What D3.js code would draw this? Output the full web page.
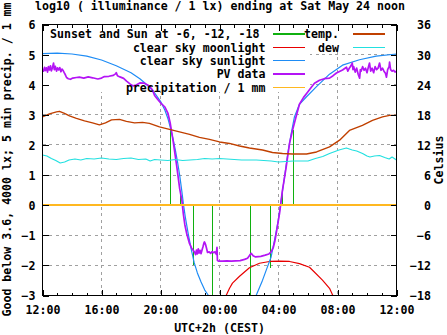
<!DOCTYPE html>
<html><head><meta charset="utf-8">
<script src="https://cdn.jsdelivr.net/npm/d3@7"></script>
<style>
html,body{margin:0;padding:0;background:#fff;}
svg{display:block;}
text{font-family:"DejaVu Sans Mono","Liberation Mono",monospace;font-weight:bold;font-size:11.6px;fill:#000;}
</style></head><body>
<svg id="c" width="447" height="335"></svg>
<script>
// ---------- texts ----------
const titleText = "log10 ( illuminance / 1 lx) ending at Sat May 24 noon";
const yLabelText = "Good below 3.6, 4000 lx; 5 min precip. / 1 mm";
const y2LabelText = "Celsius";
const xLabelText = "UTC+2h (CEST)";
// ---------- ticks ----------
const xTickHours = [0, 4, 8, 12, 16, 20, 24];      // hours after Fri 12:00
const yTicks = [-3, -2, -1, 0, 1, 2, 3, 4, 5, 6];
const y2Ticks = [-18, -12, -6, 0, 6, 12, 18, 24, 30, 36];
// ---------- series: [hours after 12:00, value] ----------
// sunset / sun at -6, -12, -18 (impulses, log10 lx)
const sunHours  = [8.68, 9.36, 10.24, 11.53, 14.10, 15.46, 16.27, 17.02];
const sunValues = [2.5, 0.42, -2.0, -3.5, -3.5, -2.1, 0.42, 2.5];
// clear sky moonlight
const moonData = [[12.3,-3.3],[12.45,-3.0],[12.68,-2.76],[12.88,-2.59],[13.36,-2.36],[14.03,-2.08],[14.71,-1.93],[15.39,-1.87],[16.07,-1.86],[16.75,-1.87],[17.42,-1.94],[18.1,-2.06],[18.31,-2.16],[18.98,-2.49],[19.46,-2.76],[19.73,-3.05],[19.85,-3.3]];
// clear sky sunlight
const sunlightData = [[0,5.03],[1,5.05],[2,5.02],[3,4.95],[4,4.82],[5,4.63],[6,4.4],[6.6,4.2],[7,4.03],[7.5,3.8],[8,3.45],[8.3,3.15],[8.5,2.88],[8.68,2.55],[8.85,2.2],[9.0,1.85],[9.15,1.45],[9.3,1.0],[9.45,0.45],[9.55,0.05],[9.7,-0.45],[9.9,-1.0],[10.1,-1.5],[10.28,-1.9],[10.5,-2.25],[10.75,-2.55],[11.0,-2.82],[11.25,-3.0],[11.5,-3.2],
  [14.2,-3.25],[14.49,-2.99],[14.92,-2.49],[15.25,-2.05],[15.5,-1.72],[15.73,-1.16],[15.95,-0.6],[16.18,0.17],[16.41,0.94],[16.63,1.72],[16.86,2.38],[17.08,2.93],[17.42,3.35],[17.9,3.6],[18.56,3.93],[19.46,4.35],[20.34,4.65],[21.49,4.83],[22.62,4.95],[24,5.02]];
// PV data
const pvData = [[0,4.52],[0.07,4.45],[0.14,4.58],[0.2,4.47],[0.27,4.56],[0.34,4.42],[0.4,4.6],[0.47,4.49],[0.54,4.63],[0.6,4.46],[0.68,4.57],[0.75,4.72],[0.8,4.5],[0.87,4.61],[0.95,4.45],[1.02,4.56],[1.1,4.49],[1.17,4.57],[1.25,4.43],[1.32,4.52],[1.4,4.47],[1.47,4.4],[1.55,4.33],[1.63,4.24],[1.75,4.2],[1.9,4.18],[2.05,4.22],[2.3,4.24],[2.5,4.25],[2.8,4.22],[3.1,4.26],[3.4,4.23],[3.75,4.19],[4.0,4.22],[4.2,4.27],[4.5,4.28],[4.8,4.31],[4.95,4.36],[5.0,4.4],[5.08,4.3],[5.25,4.26],[5.5,4.21],[5.7,4.12],[5.95,4.02],[6.15,3.96],[6.35,3.99],[6.6,4.06],[6.9,4.05],[7.1,4.0],[7.25,3.95],[7.45,3.83],[7.6,3.64],[7.8,3.52],[8.0,3.4],[8.3,3.26],[8.5,3.06],[8.65,2.75],[8.85,2.15],[9.1,1.3],[9.3,0.55],[9.45,0.15],[9.55,-0.3],[9.65,-0.65],[9.78,-0.95],[9.95,-1.25],[10.1,-1.42],[10.25,-1.52],[10.31,-1.56],[10.38,-1.64],[10.44,-1.49],[10.5,-1.62],[10.56,-1.45],[10.62,-1.59],[10.68,-1.5],[10.75,-1.61],[10.82,-1.48],[10.88,-1.38],[10.95,-1.25],[10.98,-1.22],[11.05,-1.3],[11.12,-1.43],[11.19,-1.57],[11.3,-1.55],[11.4,-1.6],[11.5,-1.54],[11.6,-1.58],[11.7,-1.55],[11.78,-1.63],[11.83,-1.4],[11.86,-1.84],[11.95,-1.86],[12.2,-1.86],[12.5,-1.85],[12.8,-1.86],[13.1,-1.85],[13.4,-1.84],[13.7,-1.8],[13.9,-1.76],[14.05,-1.66],[14.15,-1.6],[14.28,-1.68],[14.45,-1.72],[14.8,-1.7],[15.1,-1.66],[15.35,-1.62],[15.5,-1.55],[15.65,-1.4],[15.75,-1.2],[15.85,-0.93],[16.07,-0.27],[16.27,0.5],[16.52,1.26],[16.75,2.06],[16.95,2.49],[17.2,2.95],[17.42,3.35],[17.7,3.58],[17.97,3.75],[18.2,3.9],[18.44,4.05],[18.78,4.15],[19.1,4.2],[19.46,4.22],[19.7,4.3],[19.93,4.39],[20.34,4.49],[20.61,4.58],
  [20.7,4.45],[20.8,4.55],[20.9,4.62],[21.0,4.72],[21.05,4.5],[21.1,4.6],[21.2,4.42],[21.3,4.55],[21.4,4.35],[21.5,4.22],[21.55,4.5],[21.6,4.45],[21.7,4.6],[21.8,4.48],[21.9,4.55],[22.0,4.4],[22.1,4.6],[22.17,4.72],[22.25,4.45],[22.35,4.55],[22.45,4.4],[22.55,4.6],[22.65,4.5],[22.75,4.55],[22.85,4.72],[22.95,4.48],[23.05,4.55],[23.15,4.45],[23.25,4.38],[23.32,4.25],[23.4,4.5],[23.5,4.6],[23.53,4.75],[23.6,4.5],[23.7,4.45],[23.8,4.48],[23.9,4.42],[24.0,4.45]];
// precipitation / 1 mm
const precipData = [[0,0],[24,0]];
// temperature (Celsius)
const tempData = [[0,17.6],[0.47,18.2],[0.95,18.6],[1.15,18.7],[1.49,18.3],[1.83,17.8],[2.3,17.3],[2.85,16.8],[3.39,16.4],[3.86,16.0],[4.27,16.4],[4.68,17.0],[5.22,17.1],[5.69,16.7],[6.24,16.4],[6.78,16.5],[7.25,16.3],[7.93,15.6],[8.61,15.1],[9.29,14.6],[9.97,14.1],[10.64,13.5],[11.32,13.1],[12.0,12.6],[12.68,12.3],[13.36,11.8],[14.03,11.4],[14.92,11.0],[15.59,10.5],[16.27,10.3],[16.95,10.2],[17.9,10.2],[18.58,10.6],[19.46,11.6],[20.14,12.95],[20.81,14.9],[21.69,15.9],[22.37,16.9],[23.05,17.6],[23.53,17.9],[24,17.9]];
// dew point (Celsius)
const dewData = [[0,10.0],[0.3,9.8],[0.6,9.3],[0.9,8.9],[1.2,8.4],[1.5,8.6],[1.8,9.0],[2.2,9.2],[2.6,9.0],[3.0,9.3],[3.5,9.2],[4.0,9.4],[4.5,9.2],[5.0,9.1],[5.5,9.3],[6.0,9.4],[6.5,9.1],[7.0,9.2],[7.3,8.8],[7.6,9.1],[8.0,9.0],[8.5,8.9],[9.0,9.1],[9.5,8.9],[10.0,9.0],[10.5,9.1],[11.0,9.3],[11.5,9.2],[12.0,9.3],[12.5,9.2],[13.0,9.1],[13.5,9.0],[14.0,9.0],[14.5,9.0],[15.0,8.9],[15.5,8.8],[16.0,8.6],[16.5,8.7],[17.0,8.8],[17.5,8.8],[18.0,8.8],[18.5,9.3],[19.0,9.7],[19.46,10.3],[20.1,11.0],[20.6,11.4],[21.0,11.0],[21.3,10.8],[21.7,10.3],[22.0,9.8],[22.2,9.6],[22.5,9.8],[22.85,9.9],[23.2,9.5],[23.5,9.2],[23.7,9.6],[23.85,9.3],[24,9.0]];

// ---------- legend ----------
const keyCol1 = ["Sunset and Sun at -6, -12, -18", "clear sky moonlight", "clear sky sunlight", "PV data", "precipitation / 1 mm"];
const keyCol2 = ["temp.", "dew"];
const colors = {sun:"#10b010", moon:"#e80000", clear:"#1e8cf5", pv:"#b414f5", precip:"#ffb820", temp:"#c04000", dew:"#22e0e0"};

// ---------- setup ----------
const svg = d3.select("#c");
const L = 42.5, R = 396.5, T = 24.5, B = 295.5;
const t0 = Date.UTC(2025, 4, 23, 12);
const toDate = h => new Date(t0 + h * 3600e3);
const x = d3.scaleUtc().domain([toDate(0), toDate(24)]).range([L, R]);
const y = d3.scaleLinear().domain([-3, 6]).range([B, T]);
const y2 = d3.scaleLinear().domain([-18, 36]).range([B, T]);

svg.append("rect").attr("width", 447).attr("height", 335).attr("fill", "#fff");

// grid
const xTickDates = xTickHours.map(toDate);
const grid = svg.append("g").attr("stroke", "#a0a0a0").attr("stroke-dasharray", "3,3.5").attr("shape-rendering", "crispEdges");
grid.selectAll("line.v").data(xTickDates.slice(1, -1)).join("line")
  .attr("x1", d => x(d)).attr("x2", d => x(d)).attr("y1", T).attr("y2", B);
grid.selectAll("line.h").data(yTicks.slice(1, -1)).join("line")
  .attr("x1", L).attr("x2", R).attr("y1", d => y(d)).attr("y2", d => y(d));

// opaque key area
svg.append("rect").attr("x", L).attr("y", T).attr("width", 310 - L).attr("height", 92 - T).attr("fill", "#fff");
svg.append("rect").attr("x", 310).attr("y", T).attr("width", R - 310).attr("height", 52 - T).attr("fill", "#fff");

// clip
svg.append("clipPath").attr("id", "clip").append("rect").attr("x", L).attr("y", T).attr("width", R - L).attr("height", B - T);
const plot = svg.append("g").attr("clip-path", "url(#clip)");

const lineL = d3.line().x(d => x(toDate(d[0]))).y(d => y(d[1]));
const lineR = d3.line().x(d => x(toDate(d[0]))).y(d => y2(d[1]));

// sun impulses
plot.selectAll("line.sun").data(sunHours.map((h, i) => [h, sunValues[i]])).join("line")
  .attr("x1", d => x(toDate(d[0]))).attr("x2", d => x(toDate(d[0])))
  .attr("y1", y(0)).attr("y2", d => y(d[1]))
  .attr("stroke", colors.sun).attr("stroke-width", 1.5).attr("shape-rendering", "crispEdges");

function path(g, data, gen, color, w) {
  g.append("path").datum(data).attr("d", gen).attr("fill", "none")
    .attr("stroke", color).attr("stroke-width", w).attr("stroke-linejoin", "round");
}
path(plot, moonData, lineL, colors.moon, 1.2);
path(plot, sunlightData, lineL, colors.clear, 1.2);
path(plot, pvData, lineL, colors.pv, 1.7);
plot.append("path").datum(precipData).attr("d", lineL).attr("fill", "none")
  .attr("stroke", colors.precip).attr("stroke-width", 1.5).attr("shape-rendering", "crispEdges");
path(plot, tempData, lineR, colors.temp, 1.4);
path(plot, dewData, lineR, colors.dew, 1.2);

// border
svg.append("rect").attr("x", L).attr("y", T).attr("width", R - L).attr("height", B - T)
  .attr("fill", "none").attr("stroke", "#000").attr("shape-rendering", "crispEdges");

// axes
function styleAxis(g) { g.select(".domain").remove(); g.selectAll("line").attr("stroke", "#000").attr("shape-rendering", "crispEdges"); }
svg.append("g").attr("transform", `translate(0,${B})`)
  .call(d3.axisBottom(x).ticks(d3.utcHour.every(1)).tickSize(-3).tickFormat("")).call(styleAxis);
svg.append("g").attr("transform", `translate(0,${T})`)
  .call(d3.axisTop(x).ticks(d3.utcHour.every(1)).tickSize(-3).tickFormat("")).call(styleAxis);
svg.append("g").attr("transform", `translate(0,${T})`)
  .call(d3.axisTop(x).tickValues(xTickDates).tickSize(-6).tickFormat("")).call(styleAxis);
svg.append("g").attr("transform", `translate(0,${B})`)
  .call(d3.axisBottom(x).tickValues(xTickDates).tickSize(-6).tickPadding(10).tickFormat(d3.utcFormat("%H:%M"))).call(styleAxis);
const gy = svg.append("g").attr("transform", `translate(${L},0)`)
  .call(d3.axisLeft(y).tickValues(yTicks).tickSize(-6).tickPadding(7).tickFormat(d3.format("d"))).call(styleAxis);
gy.selectAll("text").attr("dy", "0.38em");
const gy2 = svg.append("g").attr("transform", `translate(${R},0)`)
  .call(d3.axisRight(y2).tickValues(y2Ticks).tickSize(-6).tickPadding(7).tickFormat(d3.format("d"))).call(styleAxis);
gy2.selectAll("text").attr("text-anchor", "end").attr("x", 34.5).attr("dy", "0.38em");

// key
const keyBase = [38.3, 51.6, 65, 78.3, 91.7];
const col1Colors = [colors.sun, colors.moon, colors.clear, colors.pv, colors.precip];
const col2Colors = [colors.temp, colors.dew];
const key = svg.append("g");
keyCol1.forEach((t, i) => {
  key.append("text").attr("x", i === 0 ? 259.5 : 265.5).attr("y", keyBase[i]).attr("text-anchor", "end").text(t);
  key.append("line").attr("x1", 273).attr("x2", 305).attr("y1", keyBase[i] - 4.3).attr("y2", keyBase[i] - 4.3)
    .attr("stroke", col1Colors[i]).attr("stroke-width", 1.3).attr("shape-rendering", "crispEdges");
});
keyCol2.forEach((t, i) => {
  key.append("text").attr("x", 339).attr("y", keyBase[i]).attr("text-anchor", "end").text(t);
  key.append("line").attr("x1", 353).attr("x2", 385).attr("y1", keyBase[i] - 4.3).attr("y2", keyBase[i] - 4.3)
    .attr("stroke", col2Colors[i]).attr("stroke-width", 1.3).attr("shape-rendering", "crispEdges");
});

// labels
svg.append("text").attr("x", 220).attr("y", 10).attr("text-anchor", "middle").text(titleText);
svg.append("text").attr("x", 219.5).attr("y", 331.5).attr("text-anchor", "middle").text(xLabelText);
svg.append("text").attr("transform", "translate(11,159.5) rotate(-90)").attr("text-anchor", "middle").text(yLabelText);
svg.append("text").attr("transform", "translate(443,160) rotate(-90)").attr("text-anchor", "middle").text(y2LabelText);
</script></body></html>
